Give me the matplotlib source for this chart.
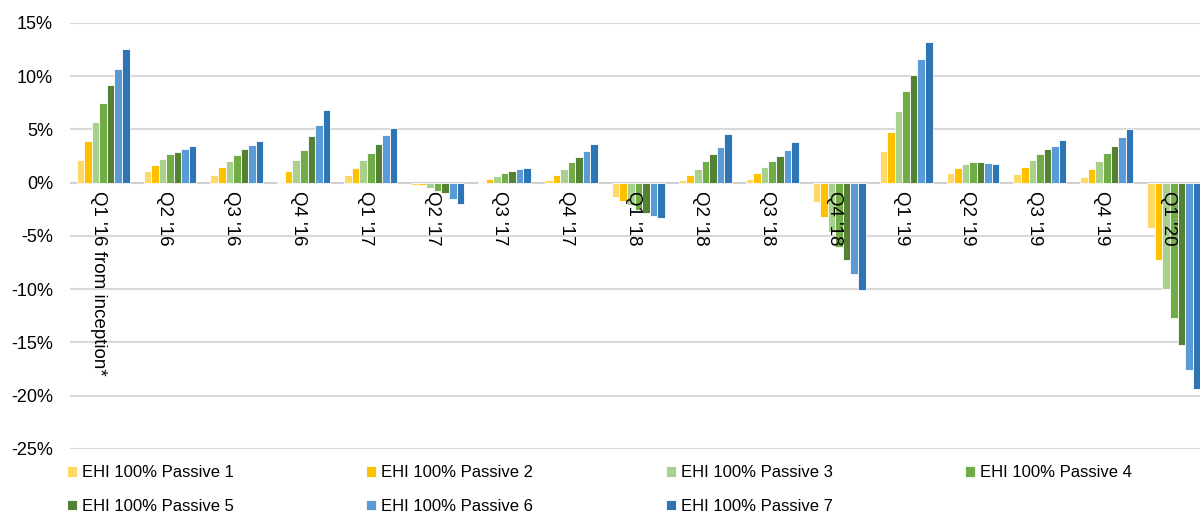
import matplotlib.pyplot as plt
import matplotlib.transforms as mtransforms
import numpy as np

plt.rcParams['font.family'] = ['Liberation Sans', 'DejaVu Sans']

quarters = ["Q1 '16 from inception*", "Q2 '16", "Q3 '16", "Q4 '16", "Q1 '17", "Q2 '17",
            "Q3 '17", "Q4 '17", "Q1 '18", "Q2 '18", "Q3 '18", "Q4 '18", "Q1 '19",
            "Q2 '19", "Q3 '19", "Q4 '19", "Q1 '20"]

passive_1 = [2.1, 1.1, 0.75, 0.05, 0.7, -0.25, 0.05, 0.25, -1.3, 0.25, 0.37, -1.85, 2.95, 0.9, 0.8, 0.5, -4.26]
passive_2 = [3.9, 1.65, 1.5, 1.1, 1.4, -0.25, 0.35, 0.72, -1.7, 0.72, 0.9, -3.24, 4.8, 1.4, 1.47, 1.3, -7.3]
passive_3 = [5.7, 2.2, 2.0, 2.1, 2.1, -0.47, 0.62, 1.28, -2.1, 1.28, 1.45, -4.6, 6.7, 1.8, 2.1, 2.05, -10.0]
passive_4 = [7.5, 2.65, 2.6, 3.05, 2.8, -0.8, 0.9, 1.9, -2.55, 2.05, 2.0, -6.0, 8.6, 1.9, 2.7, 2.77, -12.7]
passive_5 = [9.2, 2.9, 3.15, 4.35, 3.6, -1.0, 1.1, 2.45, -2.85, 2.65, 2.55, -7.3, 10.1, 1.9, 3.13, 3.45, -15.2]
passive_6 = [10.7, 3.15, 3.5, 5.4, 4.45, -1.5, 1.28, 2.95, -3.1, 3.35, 3.1, -8.6, 11.6, 1.85, 3.45, 4.25, -17.6]
passive_7 = [12.6, 3.4, 3.9, 6.8, 5.1, -2.0, 1.35, 3.6, -3.35, 4.6, 3.8, -10.1, 13.2, 1.75, 4.0, 5.05, -19.4]

series = [passive_1, passive_2, passive_3, passive_4, passive_5, passive_6, passive_7]
names = ['EHI 100%% Passive %d' % i for i in range(1, 8)]
colors = ['#FFD966', '#FFC000', '#A9D18E', '#70AD47', '#548235', '#5B9BD5', '#2E75B6']

fig = plt.figure(figsize=(12, 5.16), dpi=100)
ax = fig.add_axes([0.058, 0.13, 0.948, 0.8255])

x = np.arange(len(quarters))
w = 0.113
bars = []
for i, (vals, name, c) in enumerate(zip(series, names, colors)):
    b = ax.bar(x + (i - 3) * w, vals, w, color=c, edgecolor='white', linewidth=0.6, label=name, zorder=3)
    bars.append(b)

ax.set_xlim(-0.5, len(quarters) - 0.5)
ax.set_ylim(-25, 15)
ax.set_yticks(np.arange(-25, 16, 5))
ax.set_yticklabels(['%d%%' % v for v in range(-25, 16, 5)], fontsize=13)
ax.tick_params(axis='y', length=0, pad=12)
ax.set_xticks([])
ax.grid(axis='y', color='#D9D9D9', linewidth=1.5, zorder=0)
ax.axhline(0, color='#D0D0D0', linewidth=1.5, zorder=2)
for s in ax.spines.values():
    s.set_visible(False)

trans = mtransforms.offset_copy(ax.transData, fig=fig, x=-5, y=-8, units='dots')
for xi, q in zip(x, quarters):
    ax.text(xi, 0, q, rotation=-90, ha='center', va='top', fontsize=13.5,
            transform=trans, zorder=5)

# legend filled row by row like the original
order = [0, 4, 1, 5, 2, 6, 3]
fig.legend([bars[k] for k in order], [names[k] for k in order],
           loc='upper left', bbox_to_anchor=(0.05, 0.111), ncol=4, frameon=False,
           fontsize=12, handlelength=0.6, handleheight=0.6, handletextpad=0.3,
           columnspacing=7.95, labelspacing=1.1, borderaxespad=0)

fig.savefig('out.png', dpi=100)
